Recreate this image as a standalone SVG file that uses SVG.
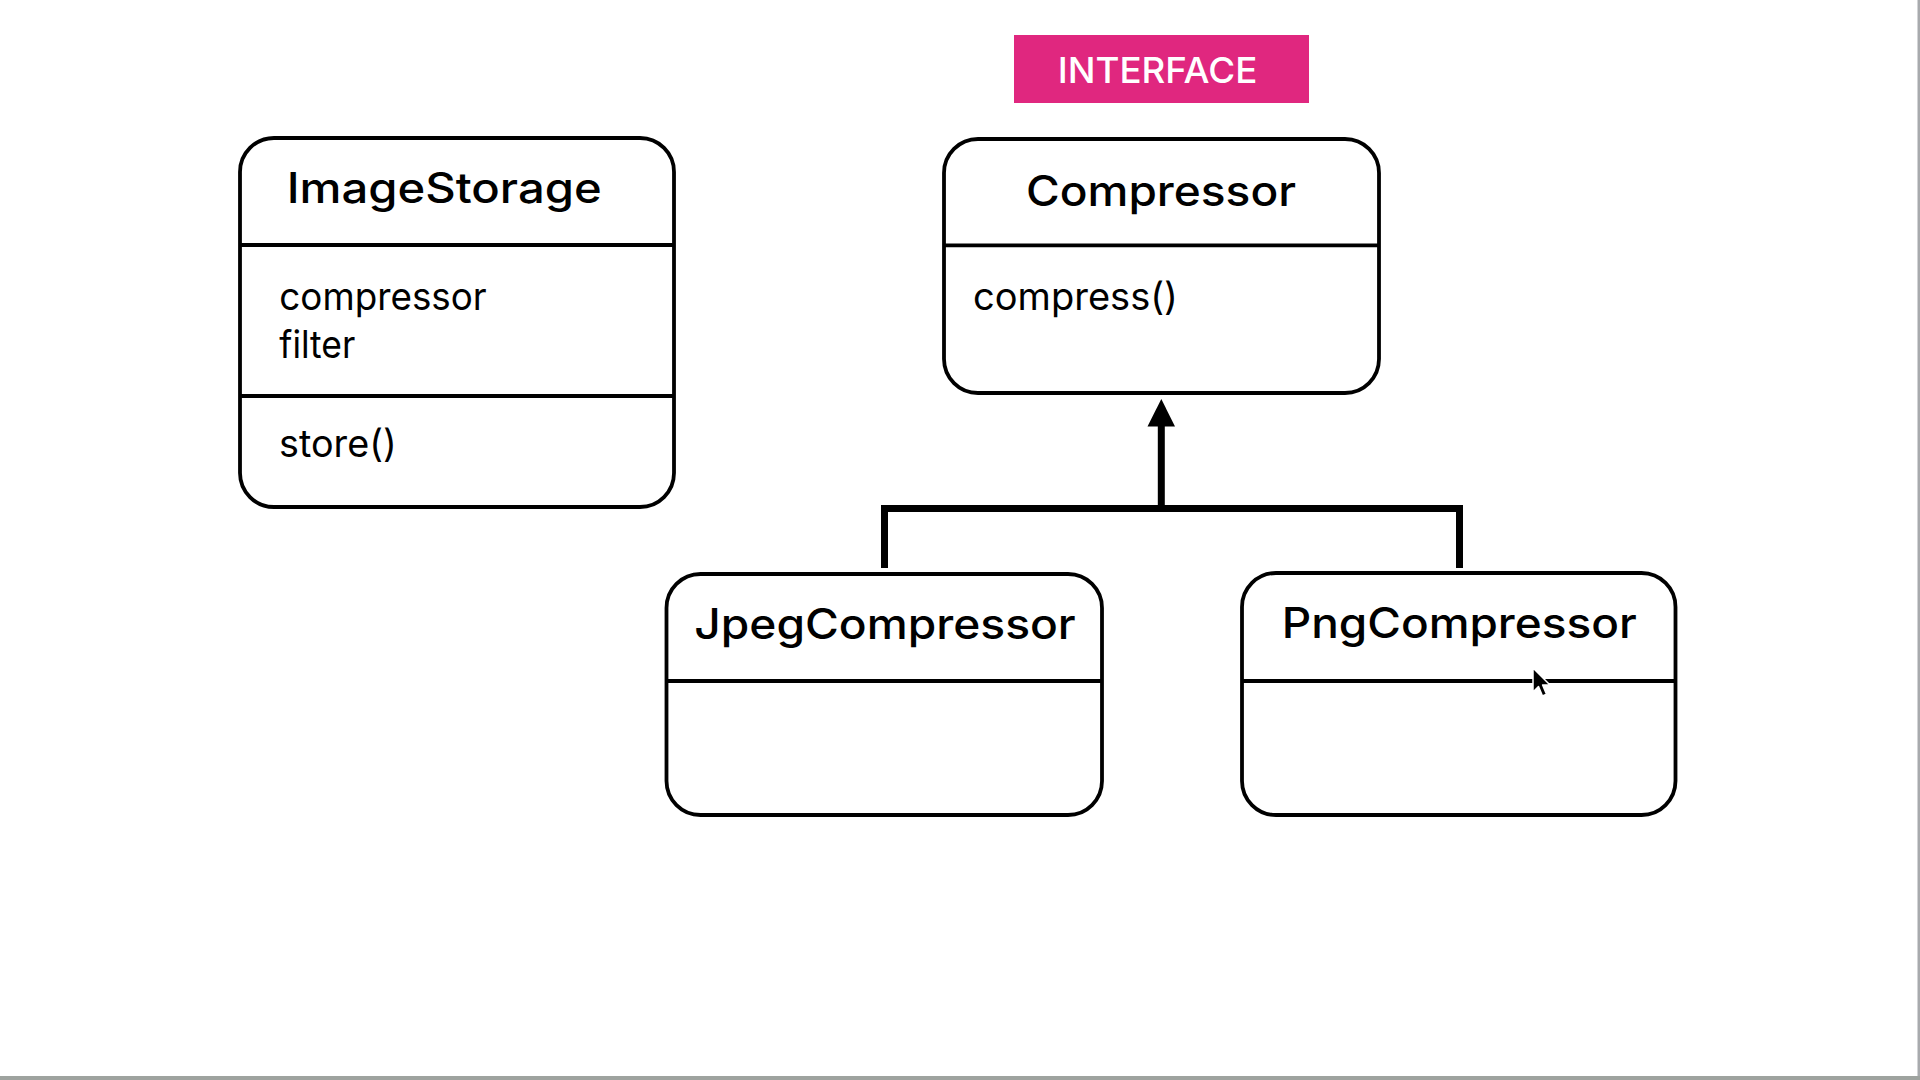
<svg xmlns="http://www.w3.org/2000/svg" width="1920" height="1080" viewBox="0 0 1920 1080">
  <style>
    .box { fill: #ffffff; stroke: #000000; stroke-width: 3.8; }
    .div { stroke: #000000; stroke-width: 3.8; }
    .title { font-family: Inter, "Open Sans", "Liberation Sans", sans-serif; font-size: 42px; font-weight: 500; fill: #000000; }
    .body { font-family: Inter, "Open Sans", "Liberation Sans", sans-serif; font-size: 38px; font-weight: 400; fill: #000000; }
    .tag { font-family: Inter, "Open Sans", "Liberation Sans", sans-serif; font-size: 36px; font-weight: 500; fill: #ffffff; }
    .link { fill: none; stroke: #000000; stroke-width: 7; stroke-linejoin: miter; stroke-linecap: butt; }
  </style>

  <rect x="0" y="0" width="1920" height="1080" fill="#ffffff"/>
  <rect x="1917.5" y="0" width="2.5" height="1080" fill="#a8aaad"/>
  <rect x="0" y="1076" width="1920" height="4" fill="#9ea39f"/>

  <!-- interface tag -->
  <g id="interface-tag">
    <rect x="1014" y="35" width="295" height="68" fill="#e0277f"/>
    <text class="tag" x="1057.7" y="82.7" textLength="199.6" lengthAdjust="spacingAndGlyphs">INTERFACE</text>
  </g>

  <!-- connectors -->
  <g id="connectors">
    <path class="link" d="M884.5 568 V508.5 H1459.5 V568"/>
    <path class="link" d="M1161.3 508.5 V424"/>
    <polygon points="1161.3,399 1147.5,426.5 1175,426.5" fill="#000000"/>
  </g>

  <g id="image-storage">
    <rect class="box" x="240" y="138" width="434" height="369" rx="34" ry="34"/>
    <line class="div" x1="240" y1="245" x2="674" y2="245"/>
    <line class="div" x1="240" y1="396" x2="674" y2="396"/>
    <text class="title" x="286.7" y="203" textLength="315" lengthAdjust="spacingAndGlyphs">ImageStorage</text>
    <text class="body" x="279.3" y="310" textLength="207.4" lengthAdjust="spacingAndGlyphs">compressor</text>
    <text class="body" x="279.3" y="358.3" textLength="76" lengthAdjust="spacingAndGlyphs">filter</text>
    <text class="body" x="279" y="456.7" textLength="117.7" lengthAdjust="spacingAndGlyphs">store()</text>
  </g>

  <g id="compressor">
    <rect class="box" x="944" y="139" width="435" height="254" rx="34" ry="34"/>
    <line class="div" x1="944" y1="245.3" x2="1379" y2="245.3"/>
    <text class="title" x="1026" y="206" textLength="270" lengthAdjust="spacingAndGlyphs">Compressor</text>
    <text class="body" x="973" y="310" textLength="205" lengthAdjust="spacingAndGlyphs">compress()</text>
  </g>

  <g id="jpeg-compressor">
    <rect class="box" x="666.5" y="574" width="435.5" height="241" rx="34" ry="34"/>
    <line class="div" x1="666.5" y1="681" x2="1102" y2="681"/>
    <text class="title" x="694.3" y="639" textLength="381.4" lengthAdjust="spacingAndGlyphs">JpegCompressor</text>
  </g>

  <g id="png-compressor">
    <rect class="box" x="1242" y="573" width="433.5" height="242" rx="34" ry="34"/>
    <line class="div" x1="1242" y1="681" x2="1675.5" y2="681"/>
    <text class="title" x="1281.7" y="638.3" textLength="355" lengthAdjust="spacingAndGlyphs">PngCompressor</text>
  </g>

  <!-- mouse pointer -->
  <g id="pointer">
    <path d="M1533 668 L1533 692 L1538.5 686.5 L1542.5 696 L1546.5 694.3 L1542.6 685 L1550 685 Z" fill="#000000" stroke="#ffffff" stroke-width="1.5" stroke-linejoin="round"/>
  </g>
</svg>
